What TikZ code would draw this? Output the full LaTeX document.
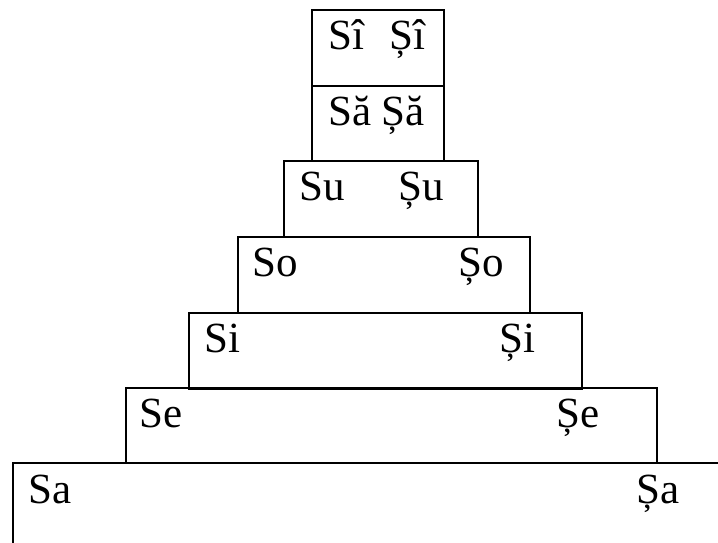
\documentclass[tikz,border=0pt]{standalone}
\usepackage{fontspec}
\setmainfont{Liberation Serif}
\usepackage{tikz}
\newfontfamily\sylfont{Liberation Serif}
\tikzset{
  tier/.style={draw,line width=2.4pt,anchor=north west,inner sep=0pt,minimum height=76pt},
  syl/.style={anchor=base west,inner sep=0pt,font=\sylfont\fontsize{43}{50}\selectfont}
}

\begin{document}
\begin{tikzpicture}[x=1pt,y=-1pt]
  \useasboundingbox (0,0) rectangle (718,542);
  \clip (0,0) rectangle (718,542);
  % tiers, bottom one runs off the page
  \node[tier,minimum width=740pt,minimum height=120pt] (sa) at (12,462) {};
  \node[tier,minimum width=531pt,minimum height=75pt] (se) at (125,387) {};
  \node[tier,minimum width=393pt] (si) at (188,312) {};
  \node[tier,minimum width=292pt] (so) at (237,236) {};
  \node[tier,minimum width=194pt] (su) at (283,160) {};
  \node[tier,minimum width=132pt,minimum height=75pt] (sa2) at (311,85) {};
  \node[tier,minimum width=132pt] (si2) at (311,9) {};
  % syllables
  \node[syl] (siL) at (328,49) {Sî};
  \node[syl] (siR) at (389,49) {Șî};
  \node[syl] (saL) at (328,125) {Să};
  \node[syl] (saR) at (381,125) {Șă};
  \node[syl] (suL) at (299,200) {Su};
  \node[syl] (suR) at (398,200) {Șu};
  \node[syl] (soL) at (252,276) {So};
  \node[syl] (soR) at (458,276) {Șo};
  \node[syl] (iL) at (204,352) {Si};
  \node[syl] (iR) at (499,352) {Și};
  \node[syl] (eL) at (139,427) {Se};
  \node[syl] (eR) at (556,427) {Șe};
  \node[syl] (aL) at (28,503) {Sa};
  \node[syl] (aR) at (636,503) {Șa};
\end{tikzpicture}
\end{document}
